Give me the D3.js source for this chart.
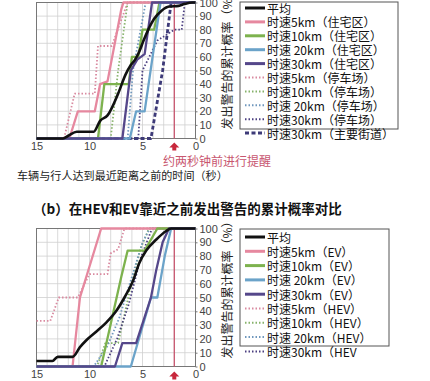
<!DOCTYPE html>
<html><head><meta charset="utf-8">
<script src="https://cdn.jsdelivr.net/npm/d3@7"></script>
<style>body{margin:0;background:#fff;}svg{display:block;}</style>
</head><body>
<svg id="c" width="430" height="381"></svg>
<script>
// ---------- data ----------
const xTicks = [15, 10, 5, 0];
const yTicks = [0, 10, 20, 30, 40, 50, 60, 70, 80, 90, 100];
const seriesKeys = ["avg", "s5", "s10", "s20", "s30", "d5", "d10", "d20", "d30", "dash30"];

const topLabels = ["平均", "时速5km（住宅区）", "时速10km（住宅区）", "时速 20km（住宅区）", "时速30km（住宅区）",
  "时速5km（停车场）", "时速10km（停车场）", "时速 20km（停车场）", "时速30km（停车场）", "时速30km（主要街道）"];
const topAvg = [[15,0],[12.5,0],[12.0,2],[11.2,5],[9.6,5],[9.0,13],[8.3,17],[7.3,33],[6.6,47],[6.1,54],[5.7,58],[5.3,64],[4.9,72],[4.4,81],[3.9,88],[3.2,94],[2.5,97],[1.6,97.5],[1.0,99],[0.3,100],[0,100]];
const topS5 = [[15,0],[11.9,0],[11.1,20],[9.5,20],[9.0,40],[8.3,42],[7.0,95],[6.8,100],[0,100]];
const topS10 = [[15,0],[9.2,0],[8.6,40],[6.3,40],[6.0,60],[5.4,60],[5.0,80],[3.9,80],[3.4,100],[0,100]];
const topS20 = [[15,0],[6.2,0],[5.6,20],[4.8,20],[3.3,100],[0,100]];
const topS30 = [[15,0],[6.9,0],[6.1,50],[5.5,58],[4.8,62],[4.1,100],[0,100]];
const topD5 = [[15,0],[12.4,0],[11.4,33],[9.5,33],[9.2,68],[7.9,68],[6.4,100],[0,100]];
const topD10 = [[15,0],[8.0,0],[7.3,50],[6.4,100],[0,100]];
const topD20 = [[15,0],[6.4,0],[5.9,50],[4.7,100],[0,100]];
const topD30 = [[15,0],[5.4,0],[5.0,50],[3.6,72],[2.0,80],[1.3,80],[1.0,100],[0,100]];
const topDash30 = [[15,0],[4.2,0],[3.1,50],[2.3,100],[0,100]];

const botLabels = ["平均", "时速5km（EV）", "时速10km（EV）", "时速 20km（EV）", "时速30km（EV）",
  "时速5km（HEV）", "时速10km（HEV）", "时速 20km（HEV）", "时速30km（HEV"];
const botAvg = [[15,4],[13.5,4],[13.0,7],[11.6,7],[10.9,14],[10.3,19],[9.4,25],[8.4,32],[7.5,40],[6.7,50],[5.9,62],[5.3,75],[4.65,84],[3.7,92],[2.8,98],[2.3,100],[0,100]];
const botS5 = [[15,0],[11.6,0],[10.9,50],[8.9,100],[0,100]];
const botS10 = [[15,0],[8.9,0],[7.0,65],[6.4,84],[4.8,84],[3.6,100],[0,100]];
const botS20 = [[15,0],[6.1,0],[4.2,50],[3.6,50],[2.9,80],[2.3,100],[0,100]];
const botS30 = [[15,0],[7.6,0],[6.9,17],[5.6,17],[4.2,50],[3.7,70],[3.1,90],[2.5,100],[0,100]];
const botD5 = [[15,33],[13.7,33],[12.9,50],[11.1,50],[10.0,67],[8.3,67],[8.0,82],[7.3,85],[6.7,100],[0,100]];
const botD10 = [[15,0],[9.3,0],[8.5,17],[7.3,17],[6.2,55],[5.2,85],[4.4,100],[0,100]];
const botD20 = [[15,0],[9.6,0],[8.3,15],[7.2,35],[6.0,65],[5.0,90],[4.3,100],[0,100]];
const botD30 = [[15,0],[8.6,0],[7.4,20],[6.3,45],[5.2,78],[4.1,100],[0,100]];

const warnTime = 2;
const texts = {
  warn: "约两秒钟前进行提醒",
  xTitle: "车辆与行人达到最近距离之前的时间（秒）",
  bTitle: "（b）在HEV和EV靠近之前发出警告的累计概率对比",
  yTitle: "发出警告的累计概率（%）"
};

// ---------- styles ----------
const styles = {
  avg:   {c:"#111111", w:2.6, da:null},
  s5:    {c:"#e6889f", w:2.3, da:null},
  s10:   {c:"#7db24e", w:2.3, da:null},
  s20:   {c:"#6ba3c9", w:2.3, da:null},
  s30:   {c:"#55478a", w:2.3, da:null},
  d5:    {c:"#d98aa0", w:1.8, da:"1.5,2"},
  d10:   {c:"#86b26a", w:1.8, da:"1.5,2"},
  d20:   {c:"#6f97bd", w:1.8, da:"1.5,2"},
  d30:   {c:"#4b3f80", w:1.8, da:"1.5,2"},
  dash30:{c:"#3d3a78", w:2.8, da:"4,2.5"}
};
const FONT_CJK = "'Noto Sans CJK SC','Noto Sans',sans-serif";
const FONT_NUM = "'Liberation Sans',Arial,sans-serif";

const svg = d3.select("#c");
const x = d3.scaleLinear().domain([15, 0]).range([36.5, 195.5]);

function panel(cfg) {
  const y = d3.scaleLinear().domain([0, 100]).range(cfg.yRange);
  const g = svg.append("g");
  // grid
  g.selectAll(".vg").data(d3.range(0, 16)).join("line")
    .attr("x1", d => x(d)).attr("x2", d => x(d))
    .attr("y1", y(0)).attr("y2", y(100))
    .attr("stroke", "#cfcfcf").attr("stroke-width", 0.8);
  g.selectAll(".hg").data(yTicks).join("line")
    .attr("x1", x(15)).attr("x2", x(0))
    .attr("y1", d => y(d)).attr("y2", d => y(d))
    .attr("stroke", "#cfcfcf").attr("stroke-width", 0.8);
  g.append("rect").attr("x", x(15)).attr("y", y(100))
    .attr("width", x(0) - x(15)).attr("height", y(0) - y(100))
    .attr("fill", "none").attr("stroke", "#777").attr("stroke-width", 1);
  // warning line
  g.append("line").attr("x1", x(warnTime)).attr("x2", x(warnTime))
    .attr("y1", y(100)).attr("y2", y(0))
    .attr("stroke", "#c8566f").attr("stroke-width", 1.3);
  // lines
  const line = d3.line().x(d => x(d[0])).y(d => y(d[1]));
  const smooth = d3.line().x(d => x(d[0])).y(d => y(d[1])).curve(d3.curveMonotoneX);
  const order = cfg.order;
  order.forEach(k => {
    const s = cfg.series[k]; if (!s) return;
    const st = styles[k];
    g.append("path").datum(s)
      .attr("d", k === "avg" ? smooth : line)
      .attr("fill", "none").attr("stroke", st.c).attr("stroke-width", st.w)
      .attr("stroke-dasharray", st.da).attr("stroke-linejoin", "round");
  });
  // y axis labels (right)
  const ya = d3.axisRight(y).tickValues(yTicks).tickSize(2).tickPadding(2);
  const yg = g.append("g").attr("transform", `translate(${x(0)},0)`).call(ya);
  yg.select(".domain").remove();
  yg.selectAll("line").attr("stroke", "#777");
  yg.selectAll("text").attr("font-family", FONT_NUM).attr("font-size", 11).attr("fill", "#444");
  // x axis labels
  const xa = d3.axisBottom(x).tickValues(xTicks).tickSize(0).tickPadding(4);
  const xg = g.append("g").attr("transform", `translate(0,${y(0)})`).call(xa);
  xg.select(".domain").remove();
  xg.selectAll("text").attr("font-family", FONT_NUM).attr("font-size", 11).attr("fill", "#444");
  // arrow
  const ax = x(warnTime), ay = y(0) + cfg.arrowOff;
  g.append("path")
    .attr("d", `M${ax},${ay} L${ax+5},${ay+5} L${ax+2},${ay+5} L${ax+2},${ay+8} L${ax-2},${ay+8} L${ax-2},${ay+5} L${ax-5},${ay+5} Z`)
    .attr("fill", "#c8283c");
  // y title
  g.append("text").attr("transform", `translate(226,${cfg.yTitleY}) rotate(-90)`)
    .attr("text-anchor", "middle").attr("dominant-baseline", "central")
    .attr("font-family", FONT_CJK).attr("font-size", 12).attr("fill", "#222")
    .text(texts.yTitle);
  // legend
  const L = cfg.legend;
  g.append("rect").attr("x", L.x).attr("y", L.y).attr("width", L.w).attr("height", L.h)
    .attr("fill", "#fff").attr("stroke", "#555").attr("stroke-width", 1);
  cfg.labels.forEach((lab, i) => {
    const k = seriesKeys[i], st = styles[k];
    const cy = L.y0 + i * L.dy;
    g.append("line").attr("x1", L.x + 5).attr("x2", L.x + 25).attr("y1", cy).attr("y2", cy)
      .attr("stroke", st.c).attr("stroke-width", st.da ? (k === "dash30" ? 3 : 2) : 3)
      .attr("stroke-dasharray", st.da);
    g.append("text").attr("x", L.x + 27).attr("y", cy).attr("dominant-baseline", "central")
      .attr("font-family", FONT_CJK).attr("font-size", 12).attr("fill", "#111").text(lab);
  });
}

panel({
  yRange: [138.5, 2.5],
  series: {avg: topAvg, s5: topS5, s10: topS10, s20: topS20, s30: topS30, d5: topD5, d10: topD10, d20: topD20, d30: topD30, dash30: topDash30},
  order: ["d5", "d10", "d20", "d30", "dash30", "s5", "s10", "s20", "s30", "avg"],
  labels: topLabels,
  legend: {x: 240, y: 2, w: 158, h: 127, y0: 8, dy: 13.9},
  arrowOff: 4,
  yTitleY: 58
});
panel({
  yRange: [366.5, 228.5],
  series: {avg: botAvg, s5: botS5, s10: botS10, s20: botS20, s30: botS30, d5: botD5, d10: botD10, d20: botD20, d30: botD30},
  order: ["d5", "d10", "d20", "d30", "s5", "s10", "s20", "s30", "avg"],
  labels: botLabels,
  legend: {x: 240, y: 229, w: 149, h: 117, y0: 237, dy: 14.3},
  arrowOff: 5,
  yTitleY: 287
});

// annotations
svg.append("text").attr("x", 163).attr("y", 160).attr("dominant-baseline", "central")
  .attr("font-family", FONT_CJK).attr("font-size", 12).attr("fill", "#c8566f").text(texts.warn);
svg.append("text").attr("x", 17).attr("y", 175).attr("dominant-baseline", "central")
  .attr("font-family", FONT_CJK).attr("font-size", 11.1).attr("fill", "#222").text(texts.xTitle);
svg.append("text").attr("x", 33).attr("y", 208).attr("dominant-baseline", "central")
  .attr("font-family", FONT_CJK).attr("font-size", 13.5).attr("font-weight", "bold").attr("fill", "#111").text(texts.bTitle);
</script>
</body></html>
